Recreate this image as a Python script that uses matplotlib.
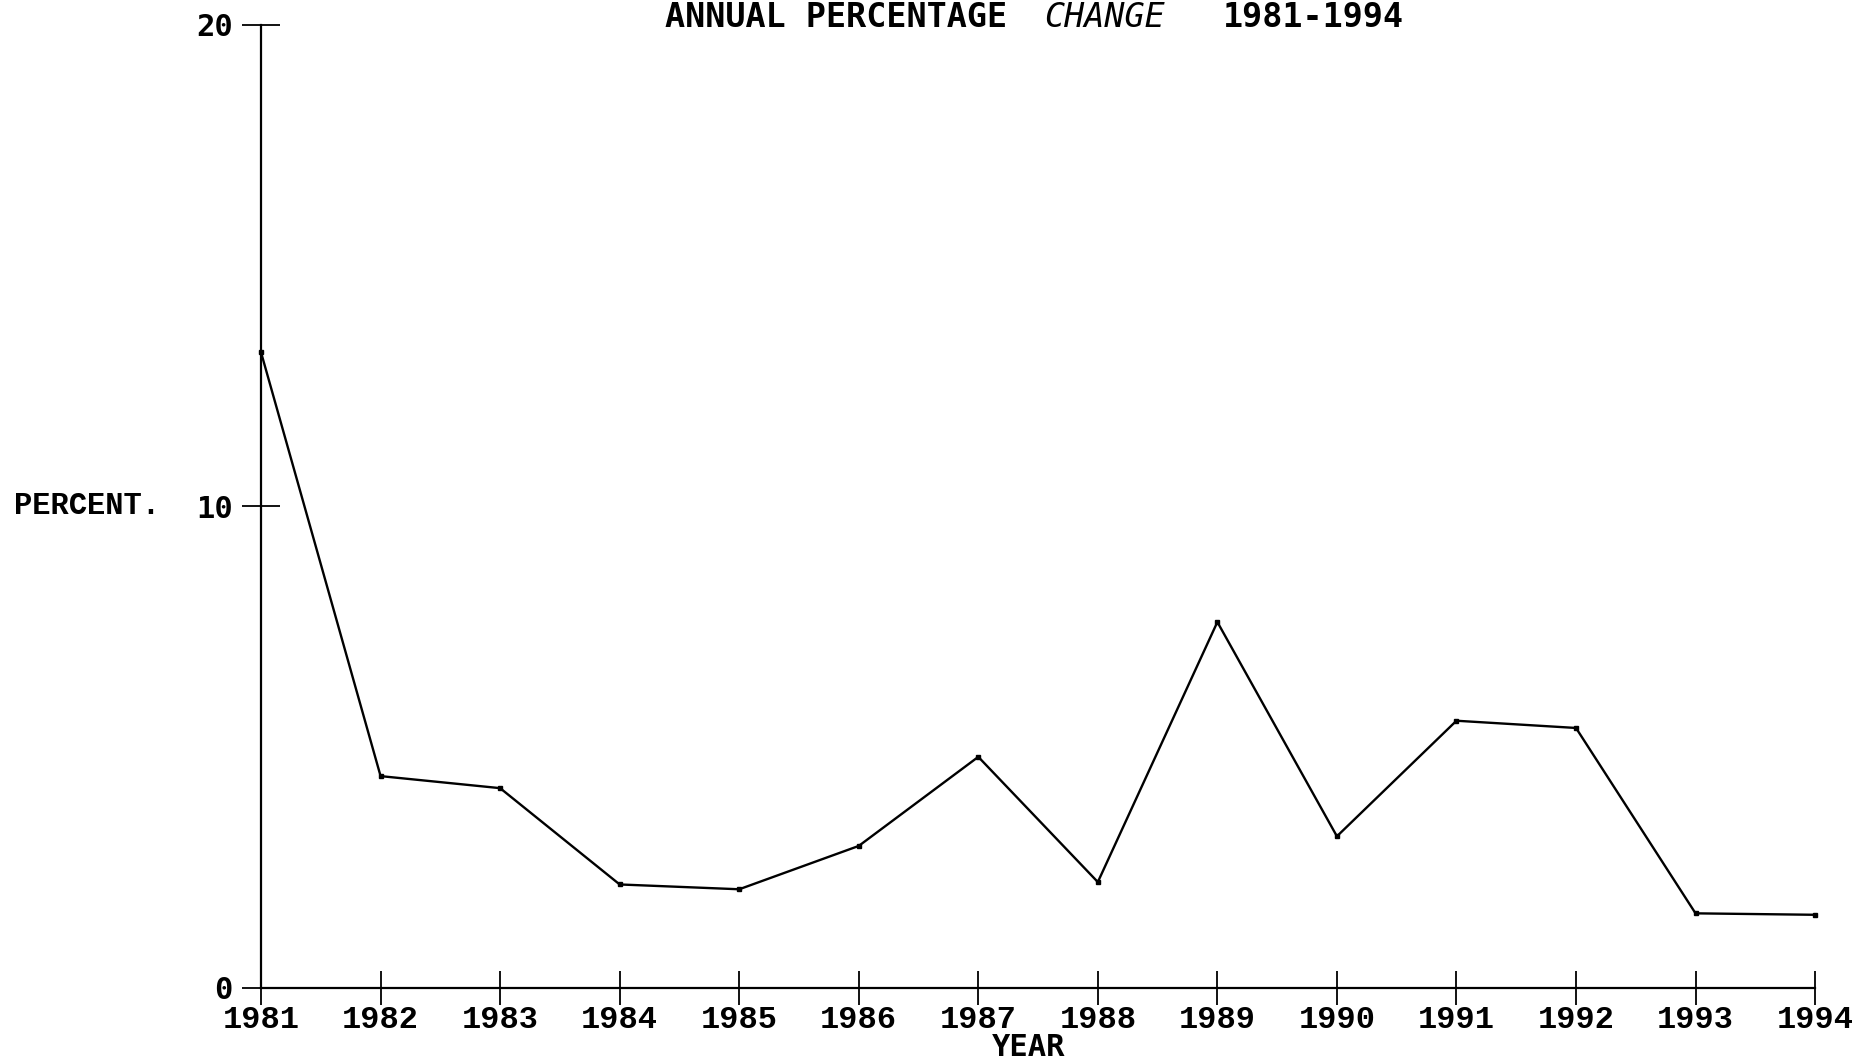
import matplotlib.pyplot as plt

# values
years = [1981, 1982, 1983, 1984, 1985, 1986, 1987, 1988, 1989, 1990, 1991, 1992, 1993, 1994]
percent = [13.2, 4.4, 4.15, 2.15, 2.05, 2.95, 4.8, 2.2, 7.6, 3.15, 5.55, 5.4, 1.55, 1.52]
y_ticks = [0, 10, 20]

fig = plt.figure(figsize=(18.58, 10.62), dpi=100)
ax = fig.add_axes([0.1405, 0.0697, 0.8364, 0.9068])

ax.plot(years, percent, color='black', linewidth=1.7, marker='s', markersize=3.5,
        clip_on=False, zorder=3)

ax.set_xlim(years[0], years[-1])
ax.set_ylim(0, 20)

for side in ['top', 'right']:
    ax.spines[side].set_visible(False)
for side in ['left', 'bottom']:
    ax.spines[side].set_linewidth(1.6)
    ax.spines[side].set_color('black')

ax.set_xticks(years)
ax.set_xticklabels([str(y) for y in years], fontfamily='Liberation Mono',
                   fontweight='bold', fontsize=23)
ax.set_yticks(y_ticks)
ax.set_yticklabels([str(v) for v in y_ticks], fontfamily='DejaVu Sans Mono',
                   fontweight='bold', fontsize=22)
ax.tick_params(axis='x', direction='inout', length=24, width=1.3, pad=0)
ax.tick_params(axis='y', direction='inout', length=27, width=1.3, pad=7)

fig.text(14 / 1858, ax.transAxes.transform((0, 0.5))[1] / 1062, 'PERCENT.',
         ha='left', va='center', fontfamily='Liberation Mono', fontweight='bold',
         fontsize=22)
fig.text(1029 / 1858, 0.0135, 'YEAR', ha='center', va='center',
         fontfamily='DejaVu Sans Mono', fontweight='bold', fontsize=22)

# title sits right at the top edge, as in the scan
ty = 0.999
fig.text(665 / 1858, ty, 'ANNUAL PERCENTAGE', ha='left', va='top',
         fontfamily='DejaVu Sans Mono', fontweight='bold', fontsize=24)
fig.text(1044 / 1858, ty, 'CHANGE', ha='left', va='top',
         fontfamily='DejaVu Sans Mono', fontstyle='italic', fontsize=24)
fig.text(1223 / 1858, ty, '1981-1994', ha='left', va='top',
         fontfamily='DejaVu Sans Mono', fontweight='bold', fontsize=24)

fig.savefig('out.png', dpi=100, facecolor='white')
